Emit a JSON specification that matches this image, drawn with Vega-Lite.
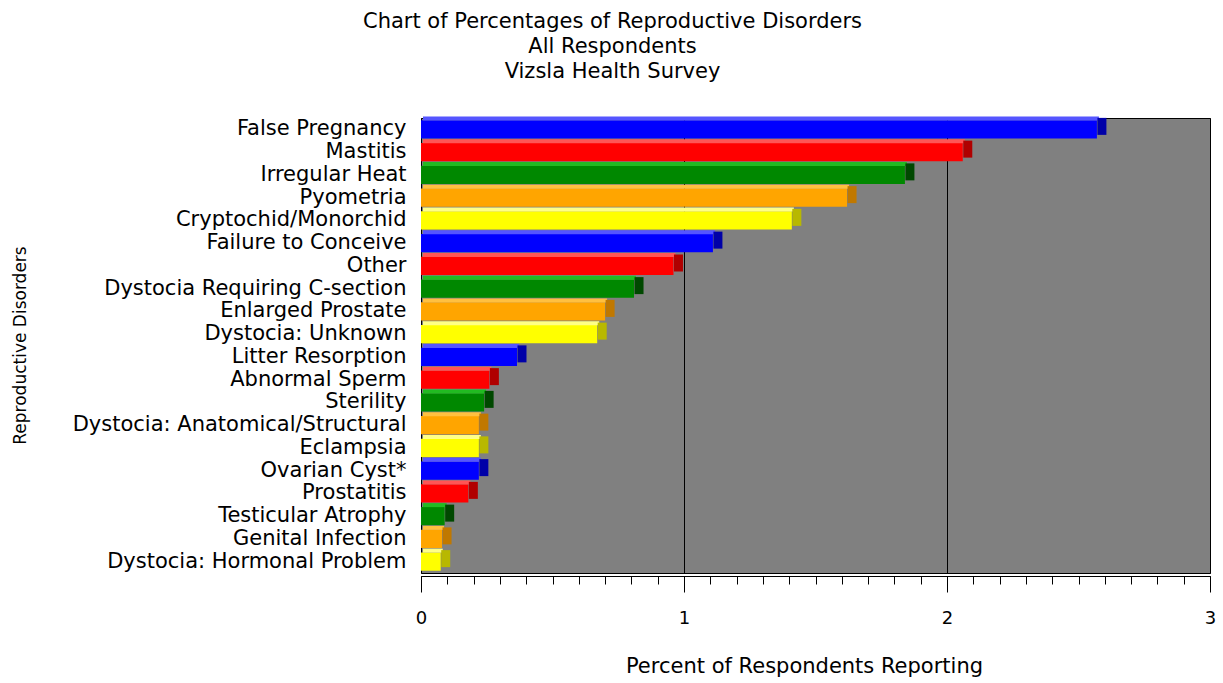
{
  "$schema": "https://vega.github.io/schema/vega-lite/v6.json",
  "width": 789,
  "height": 455,
  "autosize": "none",
  "padding": {"left": 421, "top": 118, "right": 13, "bottom": 110},
  "background": "white",
  "title": {
    "text": ["Chart of Percentages of Reproductive Disorders", "All Respondents", "Vizsla Health Survey"],
    "anchor": "middle",
    "frame": "group",
    "dx": -203,
    "offset": 34,
    "font": "DejaVu Sans",
    "fontSize": 21,
    "fontWeight": "normal",
    "lineHeight": 25,
    "color": "black"
  },
  "config": {
    "view": {"fill": "#808080", "stroke": "black", "strokeWidth": 1},
    "font": "DejaVu Sans"
  },
  "data": {
    "values": [
      {"disorder": "False Pregnancy", "percent": 2.57},
      {"disorder": "Mastitis", "percent": 2.06},
      {"disorder": "Irregular Heat", "percent": 1.84},
      {"disorder": "Pyometria", "percent": 1.62},
      {"disorder": "Cryptochid/Monorchid", "percent": 1.41},
      {"disorder": "Failure to Conceive", "percent": 1.11},
      {"disorder": "Other", "percent": 0.96},
      {"disorder": "Dystocia Requiring C-section", "percent": 0.81},
      {"disorder": "Enlarged Prostate", "percent": 0.70},
      {"disorder": "Dystocia: Unknown", "percent": 0.67},
      {"disorder": "Litter Resorption", "percent": 0.365},
      {"disorder": "Abnormal Sperm", "percent": 0.26},
      {"disorder": "Sterility", "percent": 0.24},
      {"disorder": "Dystocia: Anatomical/Structural", "percent": 0.22},
      {"disorder": "Eclampsia", "percent": 0.22},
      {"disorder": "Ovarian Cyst*", "percent": 0.22},
      {"disorder": "Prostatitis", "percent": 0.18},
      {"disorder": "Testicular Atrophy", "percent": 0.09},
      {"disorder": "Genital Infection", "percent": 0.08},
      {"disorder": "Dystocia: Hormonal Problem", "percent": 0.075}
    ]
  },
  "encoding": {
    "y": {
      "field": "disorder",
      "type": "nominal",
      "sort": null,
      "scale": {"paddingInner": 0.2, "paddingOuter": 0.1},
      "axis": {
        "title": "Reproductive Disorders",
        "titleFont": "DejaVu Sans",
        "titleFontSize": 17,
        "titleFontWeight": "normal",
        "titleColor": "black",
        "titleX": -401,
        "titleY": 227,
        "titleAngle": -90,
        "titleAlign": "center",
        "titleBaseline": "middle",
        "labelFont": "DejaVu Sans",
        "labelFontSize": 21,
        "labelColor": "black",
        "labelPadding": 15,
        "labelLimit": 0,
        "ticks": false,
        "domain": false
      }
    }
  },
  "layer": [
    {
      "mark": {"type": "bar", "cornerRadius": 0, "opacity": 1},
      "encoding": {
        "x": {
          "field": "percent",
          "type": "quantitative",
          "scale": {"domain": [0, 3], "nice": false},
          "axis": {
            "orient": "bottom",
            "title": "Percent of Respondents Reporting",
            "titleFont": "DejaVu Sans",
            "titleFontSize": 21,
            "titleFontWeight": "normal",
            "titleColor": "black",
            "titlePadding": 28,
            "titleX": 383,
            "values": [0, 1, 2, 3],
            "tickSize": 16,
            "tickColor": "black",
            "domainColor": "black",
            "offset": 3,
            "labelFont": "DejaVu Sans",
            "labelFontSize": 18,
            "labelColor": "black",
            "labelPadding": 17,
            "labelFlush": false,
            "grid": true,
            "gridColor": "black",
            "gridOpacity": 1,
            "gridWidth": 1
          }
        },
        "color": {
          "field": "disorder",
          "type": "nominal",
          "legend": null,
          "scale": {
            "domain": ["False Pregnancy", "Mastitis", "Irregular Heat", "Pyometria", "Cryptochid/Monorchid", "Failure to Conceive", "Other", "Dystocia Requiring C-section", "Enlarged Prostate", "Dystocia: Unknown", "Litter Resorption", "Abnormal Sperm", "Sterility", "Dystocia: Anatomical/Structural", "Eclampsia", "Ovarian Cyst*", "Prostatitis", "Testicular Atrophy", "Genital Infection", "Dystocia: Hormonal Problem"],
            "range": ["#0000FF", "#FF0000", "#008800", "#FFA500", "#FFFF00", "#0000FF", "#FF0000", "#008800", "#FFA500", "#FFFF00", "#0000FF", "#FF0000", "#008800", "#FFA500", "#FFFF00", "#0000FF", "#FF0000", "#008800", "#FFA500", "#FFFF00"]
          }
        }
      }
    },
    {
      "mark": {"type": "bar", "cornerRadius": 0, "opacity": 1, "height": 4, "yOffset": -11, "xOffset": 2},
      "encoding": {
        "x": {"field": "percent", "type": "quantitative", "axis": null},
        "color": {
          "field": "disorder",
          "type": "nominal",
          "legend": null,
          "scale": {
            "domain": ["False Pregnancy", "Mastitis", "Irregular Heat", "Pyometria", "Cryptochid/Monorchid", "Failure to Conceive", "Other", "Dystocia Requiring C-section", "Enlarged Prostate", "Dystocia: Unknown", "Litter Resorption", "Abnormal Sperm", "Sterility", "Dystocia: Anatomical/Structural", "Eclampsia", "Ovarian Cyst*", "Prostatitis", "Testicular Atrophy", "Genital Infection", "Dystocia: Hormonal Problem"],
            "range": ["#5555FF", "#FF5555", "#22BB22", "#FFC040", "#FFFF88", "#5555FF", "#FF5555", "#22BB22", "#FFC040", "#FFFF88", "#5555FF", "#FF5555", "#22BB22", "#FFC040", "#FFFF88", "#5555FF", "#FF5555", "#22BB22", "#FFC040", "#FFFF88"]
          }
        }
      }
    },
    {
      "mark": {"type": "tick", "orient": "vertical", "thickness": 9, "xOffset": 5, "yOffset": -3, "size": 17, "opacity": 1},
      "encoding": {
        "x": {
          "field": "percent",
          "type": "quantitative",
          "axis": {
            "orient": "bottom",
            "values": [0, 0.1, 0.2, 0.3, 0.4, 0.5, 0.6, 0.7, 0.8, 0.9, 1, 1.1, 1.2, 1.3, 1.4, 1.5, 1.6, 1.7, 1.8, 1.9, 2, 2.1, 2.2, 2.3, 2.4, 2.5, 2.6, 2.7, 2.8, 2.9, 3],
            "labels": false,
            "title": null,
            "grid": false,
            "tickSize": 8,
            "tickColor": "black",
            "domainColor": "black",
            "offset": 3
          }
        },
        "color": {
          "field": "disorder",
          "type": "nominal",
          "legend": null,
          "scale": {
            "domain": ["False Pregnancy", "Mastitis", "Irregular Heat", "Pyometria", "Cryptochid/Monorchid", "Failure to Conceive", "Other", "Dystocia Requiring C-section", "Enlarged Prostate", "Dystocia: Unknown", "Litter Resorption", "Abnormal Sperm", "Sterility", "Dystocia: Anatomical/Structural", "Eclampsia", "Ovarian Cyst*", "Prostatitis", "Testicular Atrophy", "Genital Infection", "Dystocia: Hormonal Problem"],
            "range": ["#0000A8", "#B00000", "#004800", "#C07800", "#B8B800", "#0000A8", "#B00000", "#004800", "#C07800", "#B8B800", "#0000A8", "#B00000", "#004800", "#C07800", "#B8B800", "#0000A8", "#B00000", "#004800", "#C07800", "#B8B800"]
          }
        }
      }
    }
  ],
  "resolve": {"axis": {"x": "independent"}, "scale": {"color": "independent"}}
}
